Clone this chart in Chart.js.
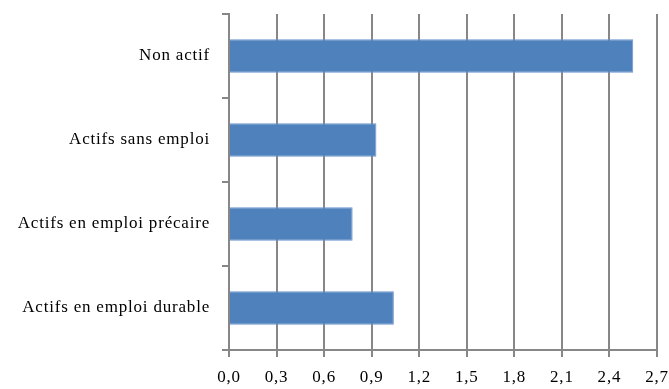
<!DOCTYPE html>
<html>
<head>
<meta charset="utf-8">
<script src="https://cdn.jsdelivr.net/npm/chart.js@4"></script>
<style>
  html, body { margin: 0; padding: 0; background: #fff; }
  #wrap { width: 669px; height: 389px; }
</style>
</head>
<body>
<div id="wrap"><canvas id="barChart" width="669" height="389"></canvas></div>
<script>
let categories = ['Non actif', 'Actifs sans emploi', 'Actifs en emploi précaire', 'Actifs en emploi durable'];
let values = [2.55, 0.93, 0.78, 1.04];
let tickValues = [0, 0.3, 0.6, 0.9, 1.2, 1.5, 1.8, 2.1, 2.4, 2.7];

let axisColor = '#878787';
let fontFamily = '"Liberation Serif", "Times New Roman", serif';

// the reference text is set a little wide, so add some letter spacing
let spacingPlugin = {
    id: 'spacing',
    beforeLayout: function(chart){ chart.ctx.letterSpacing = '0.8px'; },
    beforeDraw: function(chart){ chart.ctx.letterSpacing = '0.8px'; }
};

let ctx = document.getElementById('barChart').getContext('2d');
let barChart = new Chart(ctx, {
    type: 'bar',
    data: {
        labels: categories,
        datasets: [{
            data: values,
            backgroundColor: '#4f81bd',
            borderColor: '#6a96cc',
            borderWidth: 1,
            categoryPercentage: 1,
            barPercentage: 0.4
        }]
    },
    plugins: [spacingPlugin],
    options: {
        indexAxis: 'y',
        responsive: false,
        animation: false,
        layout: { padding: { top: 14, right: 12, left: 0, bottom: 0 } },
        plugins: {
            legend: { display: false },
            tooltip: { enabled: false }
        },
        scales: {
            x: {
                min: 0,
                max: 2.7,
                afterBuildTicks: function(axis){
                    axis.ticks = tickValues.map(v => ({ value: v }));
                },
                afterFit: function(axis){
                    axis.height = 39;
                    axis.paddingRight = 0;
                    axis.paddingLeft = 0;
                },
                grid: {
                    color: axisColor,
                    lineWidth: 2,
                    tickLength: 7,
                    tickColor: axisColor
                },
                border: { color: axisColor, width: 2 },
                ticks: {
                    color: '#000',
                    padding: 10,
                    maxRotation: 0,
                    font: { family: fontFamily, size: 17 },
                    callback: function(value){
                        return value.toFixed(1).replace('.', ',');
                    }
                }
            },
            y: {
                afterFit: function(axis){
                    axis.width = 229;
                    axis.paddingTop = 0;
                    axis.paddingBottom = 0;
                },
                grid: {
                    drawOnChartArea: false,
                    offset: true,
                    tickLength: 7,
                    tickColor: axisColor,
                    lineWidth: 2
                },
                border: { color: axisColor, width: 2 },
                ticks: {
                    color: '#000',
                    padding: 12,
                    font: { family: fontFamily, size: 17 }
                }
            }
        }
    }
});
</script>
</body>
</html>
